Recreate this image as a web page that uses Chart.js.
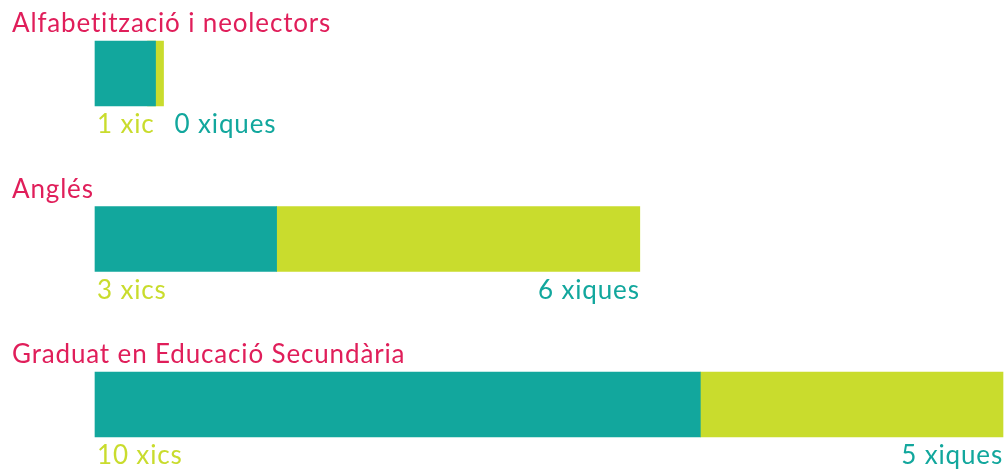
<!DOCTYPE html>
<html>
<head>
<meta charset="utf-8">
<script src="https://cdn.jsdelivr.net/npm/chart.js@4/dist/chart.umd.min.js"></script>
<style>
html,body{margin:0;padding:0;background:#fff;}
#wrap{width:1006px;height:470px;position:relative;}
</style>
</head>
<body>
<div id="wrap"><canvas id="c"></canvas></div>
<script>
const categories = ["Alfabetització i neolectors", "Anglés", "Graduat en Educació Secundària"];
const xics = [1, 3, 10];
const xiques = [0, 6, 5];
const xicLabels = ["1 xic", "3 xics", "10 xics"];
const xiqueLabels = ["0 xiques", "6 xiques", "5 xiques"];

const TEAL = "#12a79d";
const LIME = "#c9dc2d";
const PINK = "#e01e5a";
const FONT = "26px Lato, 'Open Sans', sans-serif";

const labelPlugin = {
  id: "labels",
  afterDatasetsDraw(chart) {
    const ctx = chart.ctx;
    const mA = chart.getDatasetMeta(0);
    const mB = chart.getDatasetMeta(1);
    const yScale = chart.scales.y;
    ctx.save();
    ctx.font = FONT;
    if ("letterSpacing" in ctx) ctx.letterSpacing = "0.85px";
    ctx.textBaseline = "alphabetic";
    categories.forEach((cat, i) => {
      const a = mA.data[i], b = mB.data[i];
      const top = a.y - a.height / 2;
      const bottom = a.y + a.height / 2;
      // title
      ctx.fillStyle = PINK;
      ctx.textAlign = "left";
      ctx.fillText(yScale.getLabelForValue(i), 12, top - 9);
      // left label (xics)
      const lx = Math.min(a.base, a.x) + 2;
      ctx.fillStyle = LIME;
      ctx.fillText(xicLabels[i], lx, bottom + 27);
      const lw = ctx.measureText(xicLabels[i]).width;
      // right label (xiques)
      const endX = Math.max(b.x, b.base);
      const rw = ctx.measureText(xiqueLabels[i]).width;
      let rx = endX - rw;
      if (rx < lx + lw + 20) rx = lx + lw + 20;
      ctx.fillStyle = TEAL;
      ctx.fillText(xiqueLabels[i], rx, bottom + 27);
    });
    ctx.restore();
  }
};

new Chart(document.getElementById("c"), {
  type: "bar",
  data: {
    labels: categories,
    datasets: [
      { label: "xics", data: xics, backgroundColor: TEAL, order: 0, borderWidth: 0, barThickness: 65, clip: false },
      { label: "xiques", data: xiques, backgroundColor: LIME, order: 1, borderWidth: 0, barThickness: 65, minBarLength: 16, clip: false }
    ]
  },
  options: {
    indexAxis: "y",
    responsive: true,
    maintainAspectRatio: false,
    animation: false,
    layout: { padding: { left: 95, right: 3, top: 73.5, bottom: 65.5 } },
    plugins: { legend: { display: false }, tooltip: { enabled: false } },
    scales: {
      x: { stacked: true, min: 0, max: 15, display: false },
      y: { stacked: true, offset: false, display: false }
    }
  },
  plugins: [labelPlugin]
});
</script>
</body>
</html>
